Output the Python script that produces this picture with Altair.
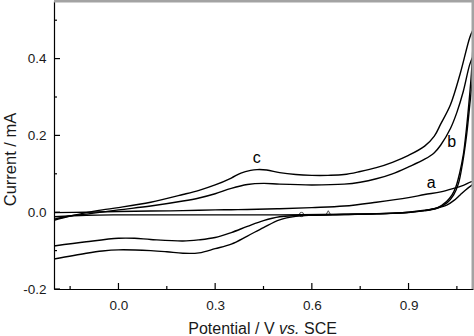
import altair as alt
import pandas as pd

# ---------------- data ----------------
# curve a
a_fwd_V = [-0.2, -0.1, 0.0, 0.1, 0.2, 0.3, 0.4, 0.5, 0.6, 0.7, 0.8, 0.9, 0.95, 1.0, 1.04, 1.07, 1.1]
a_fwd_I = [-0.001, 0.0, 0.002, 0.003, 0.004, 0.006, 0.007, 0.009, 0.012, 0.016, 0.026, 0.038, 0.046, 0.053, 0.062, 0.07, 0.08]
a_rev_V = [1.1, 1.08, 1.06, 1.04, 1.02, 0.99, 0.95, 0.9, 0.84, 0.7, 0.5, 0.3, 0.1, 0.0, -0.1, -0.2]
a_rev_I = [0.074, 0.06, 0.045, 0.03, 0.019, 0.011, 0.005, 0.0, -0.003, -0.005, -0.007, -0.007, -0.007, -0.007, -0.008, -0.012]

# curve b
b_fwd_V = [-0.2, -0.15, -0.1, 0.0, 0.1, 0.2, 0.25, 0.3, 0.35, 0.4, 0.45, 0.5, 0.6, 0.7, 0.75, 0.8,
           0.85, 0.9, 0.95, 0.98, 1.0, 1.03, 1.05, 1.07, 1.09, 1.1]
b_fwd_I = [-0.018, -0.01, -0.005, 0.006, 0.016, 0.029, 0.037, 0.048, 0.062, 0.072, 0.075, 0.073, 0.071, 0.073, 0.078, 0.087,
           0.1, 0.118, 0.138, 0.155, 0.175, 0.218, 0.26, 0.315, 0.385, 0.405]
b_rev_V = [1.1, 1.097, 1.09, 1.08, 1.068, 1.055, 1.04, 1.02, 0.99, 0.95, 0.9, 0.8, 0.7, 0.6, 0.55, 0.5,
           0.45, 0.4, 0.35, 0.3, 0.25, 0.2, 0.1, 0.05, 0.0, -0.1, -0.2]
b_rev_I = [0.405, 0.34, 0.28, 0.2, 0.13, 0.075, 0.045, 0.025, 0.011, 0.004, 0.0, -0.004, -0.006, -0.008, -0.009, -0.012,
           -0.022, -0.037, -0.053, -0.066, -0.072, -0.075, -0.071, -0.068, -0.068, -0.077, -0.088]

# curve c
c_fwd_V = [-0.2, -0.15, -0.1, -0.05, 0.0, 0.1, 0.2, 0.25, 0.3, 0.35, 0.38, 0.41, 0.43, 0.46, 0.5, 0.55,
           0.6, 0.65, 0.7, 0.75, 0.8, 0.85, 0.9, 0.95, 0.98, 1.0, 1.03, 1.06, 1.09, 1.1]
c_fwd_I = [-0.021, -0.01, -0.001, 0.006, 0.012, 0.026, 0.046, 0.057, 0.071, 0.089, 0.102, 0.109, 0.111, 0.110, 0.103, 0.098,
           0.096, 0.096, 0.098, 0.106, 0.116, 0.13, 0.148, 0.172, 0.198, 0.23, 0.28, 0.36, 0.455, 0.475]
c_rev_V = [1.1, 1.099, 1.095, 1.088, 1.08, 1.07, 1.058, 1.047, 1.035, 1.018, 0.99, 0.95, 0.9, 0.8, 0.7, 0.6,
           0.55, 0.5, 0.45, 0.4, 0.35, 0.3, 0.25, 0.2, 0.15, 0.1, 0.0, -0.05, -0.1, -0.2]
c_rev_I = [0.475, 0.42, 0.36, 0.29, 0.22, 0.15, 0.1, 0.066, 0.045, 0.028, 0.012, 0.004, -0.001, -0.004, -0.006, -0.008,
           -0.011, -0.02, -0.04, -0.062, -0.083, -0.095, -0.106, -0.107, -0.103, -0.1, -0.098, -0.101, -0.107, -0.122]

# curve labels
label_text = ["a", "b", "c"]
label_V = [0.97, 1.034, 0.429]
label_I = [0.075, 0.184, 0.14]

# small open markers on the baseline
marker_V = [0.568, 0.651]
marker_I = [-0.006, -0.001]
marker_shape = ["circle", "triangle-up"]

# axis ticks
x_major = [0.0, 0.3, 0.6, 0.9]
x_minor = [-0.15, 0.15, 0.45, 0.75, 1.05]
y_major = [-0.2, 0.0, 0.2, 0.4]
y_minor = [-0.1, 0.1, 0.3, 0.5]

x_title_parts = ["Potential / V", "vs.", "SCE"]
y_title = "Current / mA"

# ---------------- build ----------------
W, H = 419, 288
FONT = "Liberation Sans"

curves = {
    "a": (a_fwd_V + a_rev_V, a_fwd_I + a_rev_I),
    "b": (b_fwd_V + b_rev_V, b_fwd_I + b_rev_I),
    "c": (c_fwd_V + c_rev_V, c_fwd_I + c_rev_I),
}
rows = []
for name, (vs, cs) in curves.items():
    for k, (v, c) in enumerate(zip(vs, cs)):
        rows.append({"curve": name, "idx": k, "V": v, "I": c})
df = pd.DataFrame(rows)

xs = alt.Scale(domain=[-0.2, 1.1], nice=False, zero=False)
ys = alt.Scale(domain=[-0.2, 0.55], nice=False, zero=False)

lab_expr = "datum.value < 0 ? '-' + format(-datum.value, '.1f') : format(datum.value, '.1f')"

x_axis = alt.Axis(values=x_major, labelExpr=lab_expr, ticks=False, tickSize=0, grid=False,
                  domainColor="black", domainWidth=1.2, labelFont=FONT, labelFontSize=13.5,
                  labelColor="#1a1a1a", labelPadding=9, title=None)
y_axis = alt.Axis(values=y_major, labelExpr=lab_expr, ticks=False, tickSize=0, grid=False,
                  domainColor="black", domainWidth=1.2, labelFont=FONT, labelFontSize=13.5,
                  labelColor="#1a1a1a", labelPadding=8, title=y_title, titleFont=FONT,
                  titleFontSize=16.5, titleFontWeight="normal", titleColor="#1a1a1a",
                  titleAngle=270, titleAlign="center", titleBaseline="alphabetic",
                  titleX=-39, titleY=158)

X = alt.X("V:Q", scale=xs, axis=x_axis)
Y = alt.Y("I:Q", scale=ys, axis=y_axis)

lines = alt.Chart(df).mark_line(color="black", strokeWidth=1.4, interpolate="catmull-rom", clip=True).encode(
    x=X, y=Y, detail="curve:N", order="idx:Q",
)

labels = alt.Chart(pd.DataFrame({"V": label_V, "I": label_I, "t": label_text})).mark_text(
    font=FONT, fontSize=16, color="black"
).encode(x=X, y=Y, text="t:N")

markers = alt.Chart(pd.DataFrame({"V": marker_V, "I": marker_I, "s": marker_shape})).mark_point(
    filled=False, color="black", size=18, strokeWidth=1
).encode(x=X, y=Y,
         shape=alt.Shape("s:N", scale=alt.Scale(domain=marker_shape, range=marker_shape), legend=None))

def xticks(vals, ln):
    return alt.Chart(pd.DataFrame({"V": vals})).mark_rule(color="black", strokeWidth=1.2).encode(
        x=X, y=alt.value(H), y2=alt.value(H - ln))

def yticks(vals, ln):
    return alt.Chart(pd.DataFrame({"I": vals})).mark_rule(color="black", strokeWidth=1.2).encode(
        y=Y, x=alt.value(0), x2=alt.value(ln))

border_top = alt.Chart(pd.DataFrame({"k": [0]})).mark_rule(color="#a3a3a3", strokeWidth=3).encode(
    x=alt.value(0), x2=alt.value(W + 1), y=alt.value(0))
border_right = alt.Chart(pd.DataFrame({"k": [0]})).mark_rule(color="#a3a3a3", strokeWidth=3).encode(
    x=alt.value(W), y=alt.value(0), y2=alt.value(H))

title_x_pos = [134.3, 225, 250]
title_styles = ["normal", "italic", "normal"]
title_layers = []
for txt, px, st in zip(x_title_parts, title_x_pos, title_styles):
    title_layers.append(
        alt.Chart(pd.DataFrame({"t": [txt]})).mark_text(
            font=FONT, fontSize=16, fontStyle=st, color="#1a1a1a", align="left", baseline="alphabetic"
        ).encode(x=alt.value(px), y=alt.value(332.5), text="t:N")
    )

chart = alt.layer(
    lines, labels, markers,
    xticks(x_major, 6), xticks(x_minor, 3), yticks(y_major, 6), yticks(y_minor, 3),
    border_top, border_right, *title_layers
).properties(
    width=W, height=H,
    padding={"left": 54, "top": 1, "right": 1, "bottom": 47},
    autosize=alt.AutoSizeParams(type="none"),
    background="white",
).configure_view(stroke=None)

chart.save("out.html", embed_options={"renderer": "svg", "actions": False})
